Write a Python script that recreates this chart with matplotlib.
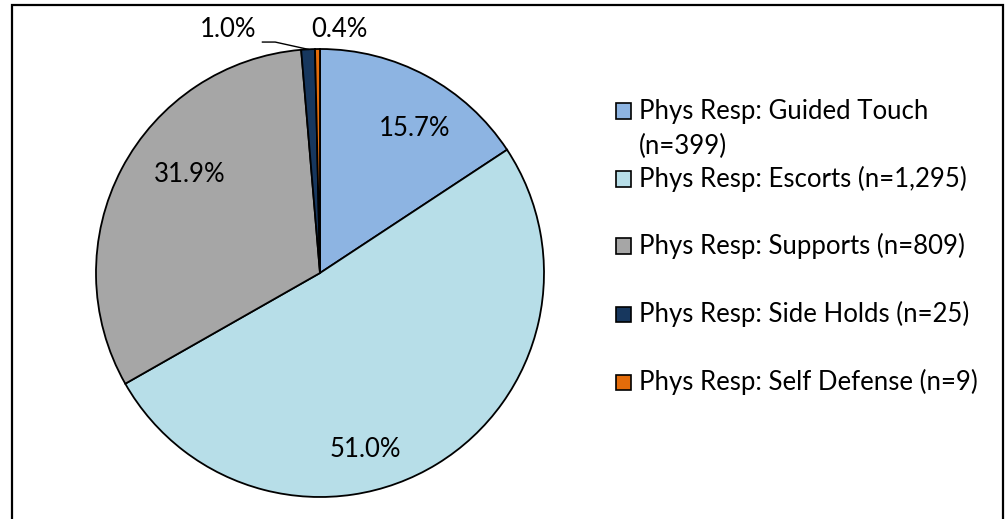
import matplotlib.pyplot as plt
import matplotlib.patches as mpatches
import numpy as np

# data
categories = ['Phys Resp: Guided Touch', 'Phys Resp: Escorts', 'Phys Resp: Supports',
              'Phys Resp: Side Holds', 'Phys Resp: Self Defense']
counts = [399, 1295, 809, 25, 9]
count_labels = ['399', '1,295', '809', '25', '9']
colors = ['#8DB4E2', '#B7DEE8', '#A6A6A6', '#17375E', '#E46C0A']

plt.rcParams['font.family'] = ['Lato', 'DejaVu Sans']

W, H = 1008, 519
fig = plt.figure(figsize=(W / 100, H / 100), dpi=100)

# pie centre / radius in pixels
cx, cy, r = 320, 273, 224
ax = fig.add_axes([(cx - r) / W, (H - cy - r) / H, 2 * r / W, 2 * r / H])

total = sum(counts)
pcts = [c / total * 100 for c in counts]

wedges, _ = ax.pie(counts, colors=colors, startangle=90, counterclock=False,
                   radius=1, wedgeprops=dict(edgecolor='black', linewidth=1.3))
ax.set_xlim(-1, 1)
ax.set_ylim(-1, 1)
ax.axis('off')

# label placements (Excel best fit), in data units
label_pos = [(0.424, 0.647), (0.201, -0.79), (-0.58, 0.438), (-0.41, 1.085), (0.089, 1.085)]
fs = 18.5
for i, (p, pos) in enumerate(zip(pcts, label_pos)):
    ax.text(pos[0], pos[1], f'{p:.1f}%', ha='center', va='center', fontsize=fs,
            clip_on=False)

# leader line for the 1.0% label
mid = np.deg2rad(90 - (sum(pcts[:3]) + pcts[3] / 2) * 3.6)
ex, ey = np.cos(mid), np.sin(mid)
ax.plot([-0.257, -0.20, ex], [1.031, 1.031, ey], color='black', lw=1, clip_on=False)

# legend drawn by hand to match Excel wrapping
rows = [111, 179, 246, 314, 382]
for i, (cat, n) in enumerate(zip(categories, count_labels)):
    y = rows[i]
    sq = 15
    fig.patches.append(mpatches.Rectangle((616 / W, (H - y - sq / 2) / H), sq / W, sq / H,
                                          transform=fig.transFigure, facecolor=colors[i],
                                          edgecolor='black', lw=1.2))
    if i == 0:
        fig.text(639 / W, (H - y) / H, cat, fontsize=fs, va='center', ha='left')
        fig.text(639 / W, (H - y - 35) / H, f'(n={n})', fontsize=fs, va='center', ha='left')
    else:
        fig.text(639 / W, (H - y) / H, f'{cat} (n={n})', fontsize=fs, va='center', ha='left')

# chart border (bottom edge is off the image)
fig.patches.append(mpatches.Rectangle((12 / W, -0.05), (1003 - 12) / W, (H - 5) / H + 0.05,
                                      transform=fig.transFigure, fill=False,
                                      edgecolor='black', lw=1.6))

fig.savefig('out.png', dpi=100)
